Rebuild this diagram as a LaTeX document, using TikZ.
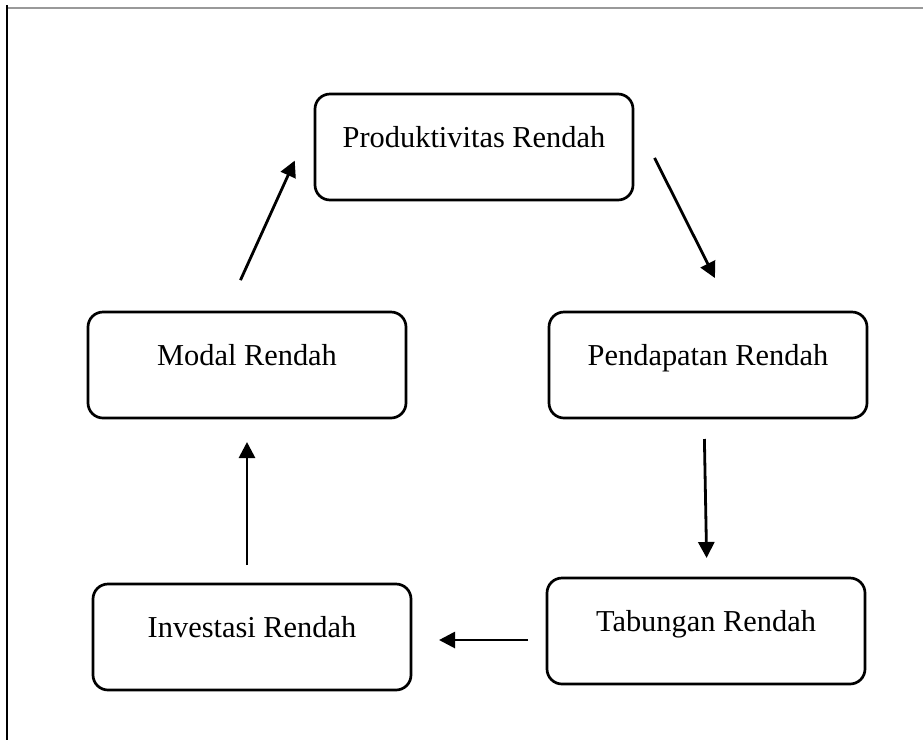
\documentclass[tikz,border=0pt]{standalone}
\usepackage{fontspec}
\setmainfont{Liberation Serif}
\usepackage{tikz}
\usetikzlibrary{arrows.meta,calc}
\tikzset{
  v fx/.style={x=1pt, y=-1pt},
  v box/.style={draw, line width=2.7pt, rounded corners=15pt, align=center, minimum width=318pt,
    inner sep=0pt, outer sep=0pt, text height=53pt, text depth=53pt, font=\fontsize{30.4pt}{36pt}\selectfont},
  v arr/.style={-{Triangle[length=16pt, width=16pt]}, line width=2.8pt},
  v rule/.style={line width=1.6pt},
}

\begin{document}
\begin{tikzpicture}[v fx]
\useasboundingbox (0,0) rectangle (923,740);
% page edges
\draw[v rule, black!40] (7,8) -- (923,8);
\draw[v rule] (7,5) -- (7,740);
% boxes
\node[v box] (prod) at (474,147) {Produktivitas Rendah};
\node[v box] (pend) at (708,365) {Pendapatan Rendah};
\node[v box] (tab) at (706,631) {Tabungan Rendah};
\node[v box] (inv) at (252,637) {Investasi Rendah};
\node[v box] (modal) at (247,365) {Modal Rendah};
% cycle
\draw[v arr, shorten <=48pt, shorten >=38pt] ($(prod.east)+(0,-32)$) -- ($(pend.north)+(24,0)$);
\draw[v arr, shorten <=21pt, shorten >=20pt] ($(pend.south)+(-4,0)$) -- ($(tab.north)+(1,0)$);
\draw[v arr, shorten <=19pt, shorten >=28pt] ($(tab.west)+(0,9)$) -- ($(inv.east)+(0,3)$);
\draw[v arr, shorten <=19pt, shorten >=24pt] ($(inv.north)+(-5,0)$) -- (modal.south);
\draw[v arr, shorten <=35pt, shorten >=49pt] ($(modal.north)+(-21,0)$) -- ($(prod.west)+(0,-31)$);
\end{tikzpicture}
\end{document}
